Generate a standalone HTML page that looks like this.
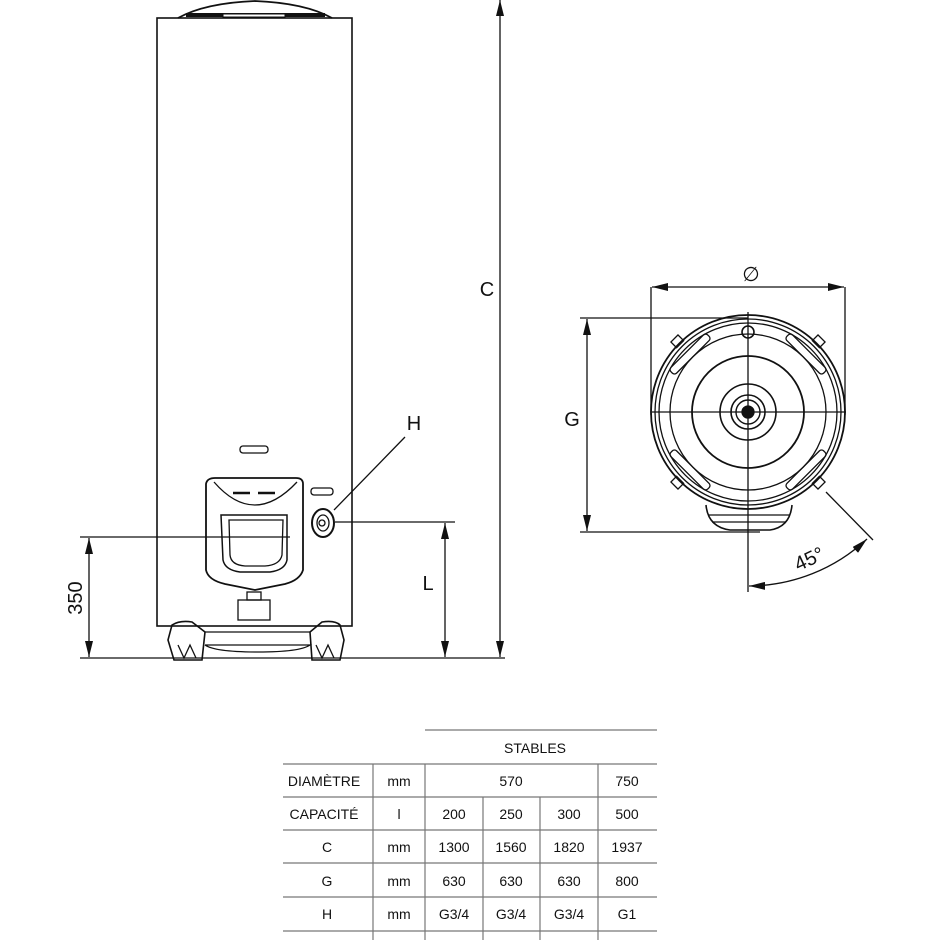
<!DOCTYPE html>
<html><head><meta charset="utf-8"><style>
html,body{margin:0;padding:0;background:#fff}
svg{display:block}
text{font-family:"Liberation Sans",sans-serif;fill:#111}
</style></head><body>
<svg width="940" height="940" viewBox="0 0 940 940" xmlns="http://www.w3.org/2000/svg">
<defs>
<marker id="a" viewBox="0 0 16 8" refX="16" refY="4" markerWidth="16" markerHeight="8" orient="auto-start-reverse" markerUnits="userSpaceOnUse"><path d="M0,0 L16,4 L0,8 z" fill="#111"/></marker>
</defs>
<g stroke="#111" fill="none" stroke-width="1.3">
<!-- tank -->
<path d="M178,18 Q205,3 255,1 Q305,3 332,18" stroke-width="1.8"/>
<path d="M186,15 L325,15" stroke-width="4"/>
<rect x="223" y="14" width="62" height="3" fill="#fff" stroke-width="1"/>
<rect x="157" y="18" width="195" height="608" stroke-width="1.6"/>
<rect x="240" y="446" width="28" height="7" rx="3"/>
<rect x="311" y="488" width="22" height="7" rx="3"/>
<!-- control panel -->
<path d="M206,484 Q207,478 215,478 L296,478 Q303,478 303,484 L303,570 Q300,580 285,584 L255,590 L225,584 Q208,580 206,570 Z" stroke-width="1.8"/>
<path d="M214,482 Q254,528 297,482"/>
<line x1="233" y1="493" x2="250" y2="493" stroke-width="2.5"/><line x1="258" y1="493" x2="275" y2="493" stroke-width="2.5"/>
<path d="M221,515 L287,515 L287,560 Q285,570 270,572 L240,572 Q225,570 223,560 Z" stroke-width="1.5"/>
<path d="M229,520 L283,520 L282,555 Q280,565 265,566 L245,566 Q231,565 230,555 Z"/>
<rect x="238" y="600" width="32" height="20"/>
<rect x="247" y="592" width="14" height="8"/>
<!-- H connector -->
<ellipse cx="323" cy="523" rx="11" ry="14" stroke-width="2"/>
<ellipse cx="323" cy="523" rx="6" ry="8"/>
<circle cx="322" cy="523" r="3"/>
<!-- feet -->
<path d="M168,640 L172,625 Q180,620 192,622 L205,632 L202,660 L174,660 Z" stroke-width="1.6"/>
<path d="M310,632 L322,622 Q335,620 340,625 L344,640 L340,660 L312,660 Z" stroke-width="1.6"/>
<path d="M205,632 L310,632 M205,645 L310,645 Q300,652 258,652 Q215,652 205,645"/>
<path d="M178,645 L184,658 L190,645 L196,658 M316,645 L322,658 L328,645 L334,658"/>
<!-- dimensions left -->
<line x1="80" y1="658" x2="505" y2="658"/>
<line x1="80" y1="537" x2="290" y2="537"/>
<line x1="89" y1="538" x2="89" y2="657" marker-start="url(#a)" marker-end="url(#a)"/>
<line x1="335" y1="522" x2="455" y2="522"/>
<line x1="445" y1="523" x2="445" y2="657" marker-start="url(#a)" marker-end="url(#a)"/>
<line x1="500" y1="0" x2="500" y2="657" marker-start="url(#a)" marker-end="url(#a)"/>
<line x1="405" y1="437" x2="334" y2="510"/>
<!-- right view -->
<line x1="651" y1="287" x2="651" y2="415"/>
<line x1="845" y1="287" x2="845" y2="415"/>
<line x1="652" y1="287" x2="844" y2="287" marker-start="url(#a)" marker-end="url(#a)"/>
<line x1="580" y1="318" x2="748" y2="318"/>
<line x1="580" y1="532" x2="760" y2="532"/>
<line x1="587" y1="319" x2="587" y2="531" marker-start="url(#a)" marker-end="url(#a)"/>
<line x1="748" y1="312" x2="748" y2="592"/>
<line x1="652" y1="412" x2="846" y2="412"/>
<path d="M706,505 Q708,527 730,530 L770,530 Q790,527 792,505" stroke-width="1.6"/>
<path d="M708,515 L790,515 M712,522 L786,522"/>
<circle cx="748" cy="412" r="97" stroke-width="1.8"/>
<circle cx="748" cy="412" r="93" stroke-width="1.3"/>
<circle cx="748" cy="412" r="89"/>
<circle cx="748" cy="412" r="78"/>
<circle cx="748" cy="412" r="56" stroke-width="1.8"/>
<circle cx="748" cy="412" r="28" stroke-width="1.6"/>
<circle cx="748" cy="412" r="17" stroke-width="1.6"/>
<circle cx="748" cy="412" r="12" stroke-width="1.4"/>
<circle cx="748" cy="412" r="6" fill="#111"/>
<circle cx="748" cy="332" r="6" stroke-width="1.6"/>
<g transform="rotate(-45 748 412)"><rect x="722" y="326" width="52" height="8" rx="3"/></g>
<g transform="rotate(45 748 412)"><rect x="722" y="326" width="52" height="8" rx="3"/></g>
<g transform="rotate(135 748 412)"><rect x="722" y="326" width="52" height="8" rx="3"/></g>
<g transform="rotate(-135 748 412)"><rect x="722" y="326" width="52" height="8" rx="3"/></g>
<g transform="rotate(-45 748 412)"><rect x="743" y="308" width="10" height="8"/></g>
<g transform="rotate(45 748 412)"><rect x="743" y="308" width="10" height="8"/></g>
<g transform="rotate(135 748 412)"><rect x="743" y="308" width="10" height="8"/></g>
<g transform="rotate(-135 748 412)"><rect x="743" y="308" width="10" height="8"/></g>
<line x1="826" y1="492" x2="873" y2="540"/>
<path d="M749,586 A174,174 0 0 0 867,539" marker-start="url(#a)" marker-end="url(#a)"/>
<!-- table -->
<g stroke="#777" stroke-width="1.2">
<line x1="425" y1="730" x2="657" y2="730"/>
<line x1="283" y1="764" x2="657" y2="764"/>
<line x1="283" y1="797" x2="657" y2="797"/>
<line x1="283" y1="830" x2="657" y2="830"/>
<line x1="283" y1="863" x2="657" y2="863"/>
<line x1="283" y1="897" x2="657" y2="897"/>
<line x1="283" y1="931" x2="657" y2="931"/>
<line x1="373" y1="764" x2="373" y2="940"/>
<line x1="425" y1="764" x2="425" y2="940"/>
<line x1="598" y1="764" x2="598" y2="940"/>
<line x1="483" y1="797" x2="483" y2="940"/>
<line x1="540" y1="797" x2="540" y2="940"/>
</g>
</g>
<g font-size="20">
<text x="487" y="296" text-anchor="middle">C</text>
<text x="414" y="430" text-anchor="middle">H</text>
<text x="428" y="590" text-anchor="middle">L</text>
<text x="572" y="426" text-anchor="middle">G</text>
<text x="751" y="281" text-anchor="middle">∅</text>
<text transform="translate(82 598) rotate(-90)" text-anchor="middle">350</text>
<text transform="translate(812 565) rotate(-25)" text-anchor="middle">45°</text>
</g>
<g font-size="14" text-anchor="middle" style="fill:#222">
<text x="535" y="753">STABLES</text>
<text x="324" y="786">DIAMÈTRE</text><text x="399" y="786">mm</text><text x="511" y="786">570</text><text x="627" y="786">750</text>
<text x="324" y="819">CAPACITÉ</text><text x="399" y="819">l</text><text x="454" y="819">200</text><text x="511" y="819">250</text><text x="569" y="819">300</text><text x="627" y="819">500</text>
<text x="327" y="852">C</text><text x="399" y="852">mm</text><text x="454" y="852">1300</text><text x="511" y="852">1560</text><text x="569" y="852">1820</text><text x="627" y="852">1937</text>
<text x="327" y="886">G</text><text x="399" y="886">mm</text><text x="454" y="886">630</text><text x="511" y="886">630</text><text x="569" y="886">630</text><text x="627" y="886">800</text>
<text x="327" y="919">H</text><text x="399" y="919">mm</text><text x="454" y="919">G3/4</text><text x="511" y="919">G3/4</text><text x="569" y="919">G3/4</text><text x="627" y="919">G1</text>
</g>
</svg>
</body></html>
